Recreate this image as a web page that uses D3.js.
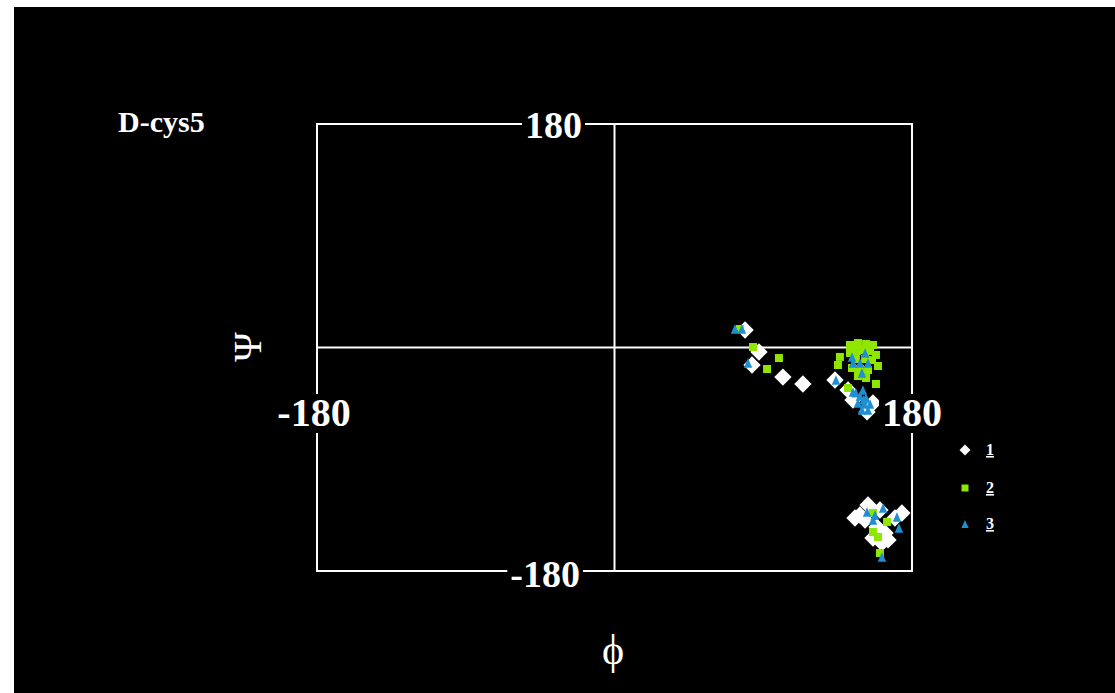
<!DOCTYPE html>
<html>
<head>
<meta charset="utf-8">
<script src="https://cdn.jsdelivr.net/npm/d3@7/dist/d3.min.js"></script>
<style>
  html, body { margin: 0; padding: 0; background: #fff; }
  svg { display: block; }
</style>
</head>
<body>
<script>
// Ramachandran-style scatter of backbone dihedrals (phi, psi) for residue D-cys5
const title = "D-cys5";
const axisMin = -180, axisMax = 180;
const tickLabels = { top: "180", bottom: "-180", left: "-180", right: "180" };
const seriesNames = ["1", "2", "3"];

// Series 1 (white diamonds)
const phi1 = [79.0, 87.4, 83.2, 101.9, 114.0, 133.4, 141.3, 144.3, 152.8, 156.4,
              153.4, 145.5, 148.5, 160.6, 173.9, 169.7, 158.8, 163.7, 156.4, 165.5, 161.8, 151.6];
const psi1 = [14.1, -3.6, -14.1, -23.8, -29.4, -26.2, -34.2, -42.3, -51.9, -44.7,
              -126.8, -137.3, -134.9, -130.9, -133.3, -137.3, -144.6, -149.4, -153.4, -155.0, -157.4, -138.9];

// Series 2 (green squares)
const phi2 = [75.9, 83.8, 99.5, 92.3, 136.4, 135.2,
              142.5, 147.3, 152.2, 156.4, 158.2, 159.4, 142.5, 146.7, 151.0, 154.6,
              146.1, 151.6, 155.8, 143.7, 148.5, 153.4, 147.3, 152.2, 141.3, 158.2,
              156.4, 164.9, 156.4, 159.4, 160.6];
const psi2 = [14.9, 0.4, -8.5, -17.3, -7.6, -14.1,
              2.0, 3.6, 2.8, 2.0, -6.0, -14.9, -4.4, -2.8, -2.0, -2.8,
              -9.3, -9.3, -10.1, -16.5, -17.3, -18.1, -23.0, -24.6, -32.6, -29.4,
              -133.3, -140.5, -148.6, -152.6, -165.5];

// Series 3 (blue triangles)
const phi3 = [72.9, 77.1, 80.8, 143.7, 151.6, 144.3, 148.5, 153.4, 149.7, 134.0,
              144.3, 150.3, 148.5, 152.2, 147.3, 151.0, 154.6, 149.7, 153.4, 150.8, 146.0,
              152.8, 157.6, 162.5, 156.4, 170.9, 172.1, 161.8];
const psi3 = [14.9, 14.9, -12.5, -7.6, -4.4, -12.5, -12.5, -12.5, -20.5, -26.2,
              -35.8, -34.2, -39.1, -40.7, -44.7, -45.5, -45.5, -50.3, -50.3, -42.0, -36.5,
              -132.5, -134.9, -129.3, -138.9, -136.5, -145.4, -168.7];

const colors = ["#ffffff", "#8fe600", "#1f8fd2"];

const W = 1115, H = 693;
const svg = d3.select("body").append("svg").attr("width", W).attr("height", H);

// black panel
svg.append("rect").attr("x", 14).attr("y", 7).attr("width", W - 14).attr("height", H - 7).attr("fill", "#000");

const x = d3.scaleLinear().domain([axisMin, axisMax]).range([317, 912]);
const y = d3.scaleLinear().domain([axisMin, axisMax]).range([571, 124]);

const frame = svg.append("g").attr("stroke", "#fff").attr("stroke-width", 2).attr("fill", "none");
frame.append("rect").attr("x", x(axisMin)).attr("y", y(axisMax))
  .attr("width", x(axisMax) - x(axisMin)).attr("height", y(axisMin) - y(axisMax));
frame.append("line").attr("x1", x(0)).attr("x2", x(0)).attr("y1", y(axisMax)).attr("y2", y(axisMin));
frame.append("line").attr("x1", x(axisMin)).attr("x2", x(axisMax)).attr("y1", y(0)).attr("y2", y(0));

// Symbol shapes
const diamondType = { draw(ctx, size) { const r = Math.sqrt(size / 2);
  ctx.moveTo(0, -r); ctx.lineTo(r, 0); ctx.lineTo(0, r); ctx.lineTo(-r, 0); ctx.closePath(); } };
const triType = { draw(ctx, size) { const h = Math.sqrt(size * 2 * 9 / 8), w = h * 8 / 9;
  ctx.moveTo(0, -h / 2); ctx.lineTo(w / 2, h / 2); ctx.lineTo(-w / 2, h / 2); ctx.closePath(); } };
const types = [diamondType, d3.symbolSquare, triType];
const sizes = [150, 64, 40];
const legendSizes = [60, 49, 30];

const series = [[phi1, psi1], [phi2, psi2], [phi3, psi3]];
series.forEach(([ph, ps], i) => {
  const pts = ph.map((p, j) => [p, ps[j]]);
  svg.append("g").selectAll("path").data(pts).join("path")
    .attr("transform", d => `translate(${x(d[0])},${y(d[1])})`)
    .attr("d", d3.symbol().type(types[i]).size(sizes[i]))
    .attr("fill", colors[i]);
});

// Axis end labels with black knock-out backgrounds
function label(txt, px, py, anchor, size) {
  const g = svg.append("g");
  const t = g.append("text").attr("x", px).attr("y", py).attr("text-anchor", anchor)
    .attr("font-family", "Liberation Serif").attr("font-weight", "bold")
    .attr("font-size", size).attr("fill", "#fff").text(txt);
  const b = t.node().getBBox();
  g.insert("rect", "text").attr("x", b.x - 3).attr("y", b.y + 4).attr("width", b.width + 6)
    .attr("height", b.height - 6).attr("fill", "#000");
}
label(tickLabels.top, 582, 138, "end", 38);
label(tickLabels.bottom, 580, 587, "end", 38);
label(tickLabels.left, 314, 426, "middle", 40);
label(tickLabels.right, 912, 426, "middle", 40);

// Title
svg.append("text").attr("x", 118).attr("y", 132).attr("font-family", "Liberation Serif")
  .attr("font-weight", "bold").attr("font-size", 30).attr("fill", "#fff").text(title);

// Axis symbols
svg.append("text").attr("transform", "translate(247,347) rotate(-90)").attr("text-anchor", "middle")
  .attr("dy", "0.35em").attr("font-family", "Liberation Serif").attr("font-size", 40)
  .attr("fill", "#fff").text("Ψ");
svg.append("text").attr("x", 613).attr("y", 664).attr("text-anchor", "middle")
  .attr("font-family", "Liberation Serif").attr("font-size", 42).attr("fill", "#fff").text("ϕ");

// Legend
const legY = [450, 488, 524];
seriesNames.forEach((n, i) => {
  svg.append("path").attr("transform", `translate(965,${legY[i]})`)
    .attr("d", d3.symbol().type(types[i]).size(legendSizes[i])).attr("fill", colors[i]);
  svg.append("text").attr("x", 986).attr("y", legY[i] + 5).attr("font-family", "Liberation Serif")
    .attr("font-weight", "bold").attr("font-size", 16).attr("fill", "#fff")
    .attr("text-decoration", "underline").text(n);
});
</script>
</body>
</html>
